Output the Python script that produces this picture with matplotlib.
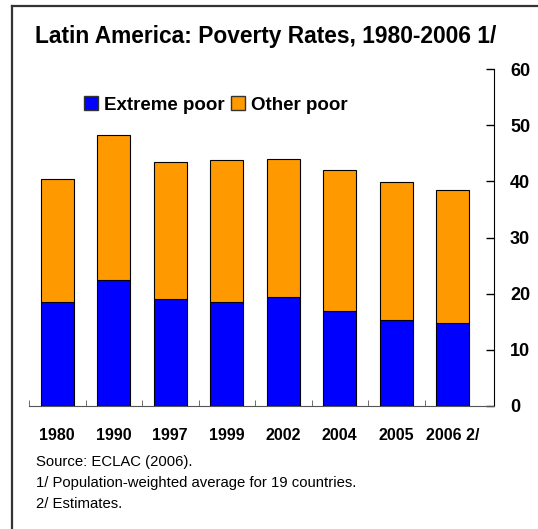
import matplotlib
matplotlib.use("Agg")
import matplotlib.pyplot as plt
from matplotlib.lines import Line2D
from matplotlib.patches import Patch
import numpy as np

plt.rcParams['font.family'] = ['Liberation Sans', 'DejaVu Sans']

categories = ["1980", "1990", "1997", "1999", "2002", "2004", "2005", "2006 2/"]
extreme_poor = [18.6, 22.5, 19.0, 18.5, 19.4, 16.9, 15.4, 14.7]
total_poor = [40.5, 48.3, 43.5, 43.8, 44.0, 42.0, 39.8, 38.5]
other_poor = [t - e for t, e in zip(total_poor, extreme_poor)]
yticks = [0, 10, 20, 30, 40, 50, 60]

W, H = 538, 529
fig = plt.figure(figsize=(W / 100, H / 100), dpi=100)

# axes: left x=29, right x=494, bottom y=406, top y=69
ax = fig.add_axes([29 / W, 1 - 406 / H, (494 - 29) / W, (406 - 69) / H])
x = np.arange(len(categories))
bw = 0.58
ax.bar(x, extreme_poor, width=bw, color="#0000FF", edgecolor="black", linewidth=0.8, zorder=3)
ax.bar(x, other_poor, bottom=extreme_poor, width=bw, color="#FF9900", edgecolor="black", linewidth=0.8, zorder=3)

ax.set_xlim(-0.5, 7.5 + 13 / 56.5)
ax.set_ylim(0, 60)
ax.spines['top'].set_visible(False)
ax.spines['left'].set_visible(False)
ax.spines['right'].set_color("black")
ax.spines['bottom'].set_color("#555555")
ax.yaxis.tick_right()
ax.set_yticks(yticks)
ax.set_yticklabels([str(v) for v in yticks], fontsize=13, fontweight="bold")
ax.tick_params(axis='y', direction='in', length=6, pad=11.5, colors="black", width=1)
ax.set_xticks(x)
ax.set_xticklabels(categories, fontsize=11.5, fontweight="bold")
ax.tick_params(axis='x', length=0, pad=16)
ax.set_xticks(np.arange(-0.5, 7.0, 1.0), minor=True)
ax.tick_params(axis='x', which='minor', direction='in', length=4, color="#555555")

# title
fig.text(35 / W, 1 - 43 / H, "Latin America: Poverty Rates, 1980-2006 1/",
         fontsize=16.4, fontweight="bold", ha="left", va="baseline")

# legend
handles = [Patch(facecolor="#0000FF", edgecolor="#333333", label="Extreme poor"),
           Patch(facecolor="#FF9900", edgecolor="#333333", label="Other poor")]
fig.legend(handles=handles, loc="center left", bbox_to_anchor=(67 / W, 1 - 105 / H),
           ncol=2, frameon=False, handlelength=0.75, handleheight=0.75, handletextpad=0.35,
           columnspacing=0.3, prop={"size": 13.5, "weight": "bold"})

# footnotes
notes = ["Source: ECLAC (2006).", "1/ Population-weighted average for 19 countries.", "2/ Estimates."]
for i, n in enumerate(notes):
    fig.text(36 / W, 1 - (462 + 21 * i) / H, n, fontsize=10.7, ha="left", va="center")

# border lines (top and left)
fig.add_artist(Line2D([12 / W, 1.0], [1 - 6 / H, 1 - 6 / H], color="#333333", lw=1.6))
fig.add_artist(Line2D([12 / W, 12 / W], [0, 1 - 6 / H], color="#333333", lw=1.6))

fig.savefig("out.png", dpi=100)
